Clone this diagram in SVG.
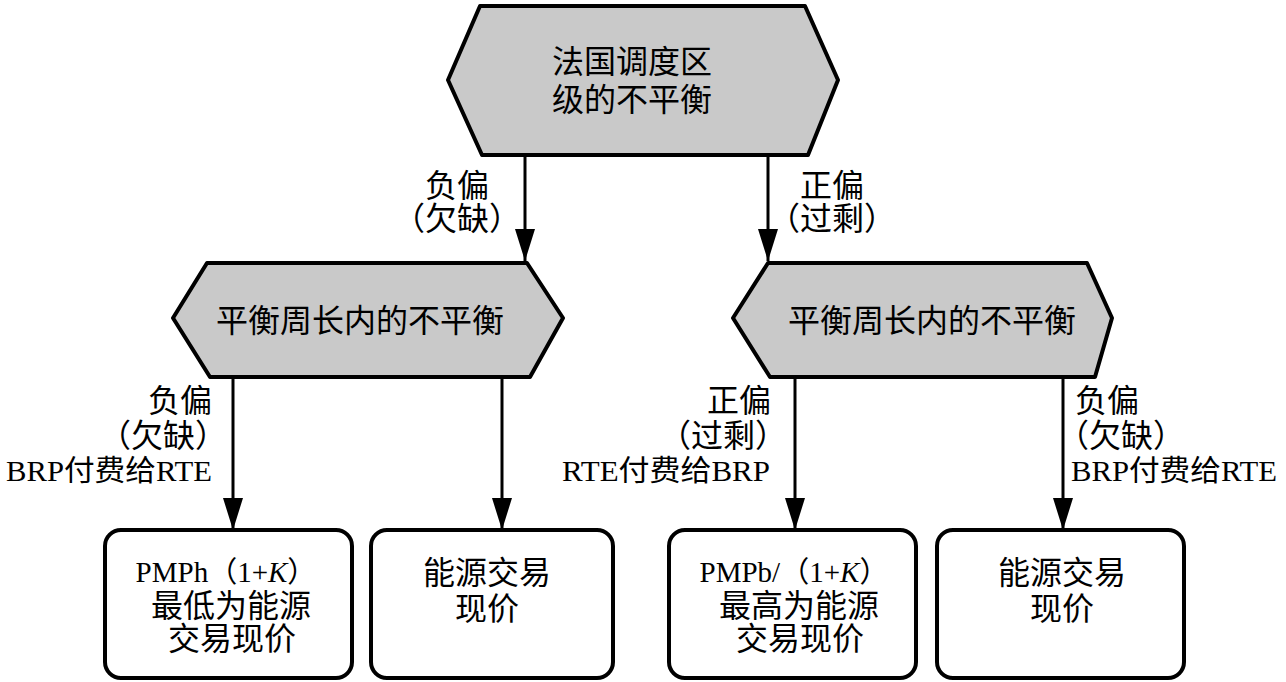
<svg xmlns="http://www.w3.org/2000/svg" width="1286" height="682" viewBox="0 0 1286 682">
<defs>
<style>
.hex{fill:#c9c9c9;stroke:#000;stroke-width:4;stroke-linejoin:round}
.box{fill:#fff;stroke:#000;stroke-width:4}
.t{font-family:"Liberation Serif","Noto Sans CJK SC",serif;font-size:32px;fill:#000;text-anchor:middle}
.f{font-size:29px}
.g{font-size:29px}
.conn{stroke:#000;stroke-width:3;fill:none}
</style>
<marker id="arr" viewBox="0 0 32 20" refX="32" refY="10" markerWidth="32" markerHeight="20" markerUnits="userSpaceOnUse" orient="auto">
<path d="M0,0 L32,10 L0,20 Z" fill="#000"/>
</marker>
</defs>
<rect width="1286" height="682" fill="#fff"/>
<g id="connectors">
<line class="conn" x1="525" y1="155" x2="525" y2="261" marker-end="url(#arr)"/>
<line class="conn" x1="768" y1="155" x2="768" y2="261" marker-end="url(#arr)"/>
<line class="conn" x1="233" y1="377" x2="233" y2="530" marker-end="url(#arr)"/>
<line class="conn" x1="502" y1="377" x2="502" y2="530" marker-end="url(#arr)"/>
<line class="conn" x1="795" y1="377" x2="795" y2="530" marker-end="url(#arr)"/>
<line class="conn" x1="1063" y1="377" x2="1063" y2="530" marker-end="url(#arr)"/>
<text class="t" x="457" y="197">负偏</text>
<text class="t" x="457" y="230">（欠缺）</text>
<text class="t" x="832" y="197">正偏</text>
<text class="t" x="832" y="230">（过剩）</text>
<text class="t" x="180" y="412">负偏</text>
<text class="t" x="163" y="447">（欠缺）</text>
<text class="t g" x="109" y="481" textLength="206" lengthAdjust="spacingAndGlyphs">BRP付费给RTE</text>
<text class="t" x="739" y="412">正偏</text>
<text class="t" x="723" y="447">（过剩）</text>
<text class="t g" x="666" y="481" textLength="208" lengthAdjust="spacingAndGlyphs">RTE付费给BRP</text>
<text class="t" x="1107" y="412">负偏</text>
<text class="t" x="1121" y="447">（欠缺）</text>
<text class="t g" x="1174" y="481" textLength="206" lengthAdjust="spacingAndGlyphs">BRP付费给RTE</text>
</g>
<g id="top">
<polygon class="hex" points="480,6 805,6 838,80 808,155 482,155 448,80"/>
<text class="t" x="632" y="73">法国调度区</text>
<text class="t" x="632" y="111">级的不平衡</text>
</g>
<g id="midLeft">
<polygon class="hex" points="207,263 527,263 563,318 530,377 210,377 173,318"/>
<text class="t" x="360" y="332">平衡周长内的不平衡</text>
</g>
<g id="midRight">
<polygon class="hex" points="768,263 1087,263 1112,318 1095,377 770,377 733,318"/>
<text class="t" x="932" y="332">平衡周长内的不平衡</text>
</g>
<g id="box1">
<rect class="box" x="105" y="530" width="247" height="148" rx="16"/>
<text class="t f" x="226" y="582">PMPh（1+<tspan font-style="italic">K</tspan>）</text>
<text class="t" x="231" y="617">最低为能源</text>
<text class="t" x="232" y="650">交易现价</text>
</g>
<g id="box2">
<rect class="box" x="371" y="530" width="242" height="148" rx="16"/>
<text class="t" x="487" y="584">能源交易</text>
<text class="t" x="487" y="620">现价</text>
</g>
<g id="box3">
<rect class="box" x="669" y="530" width="247" height="148" rx="16"/>
<text class="t f" x="794" y="582">PMPb/（1+<tspan font-style="italic">K</tspan>）</text>
<text class="t" x="799" y="617">最高为能源</text>
<text class="t" x="800" y="650">交易现价</text>
</g>
<g id="box4">
<rect class="box" x="937" y="530" width="247" height="148" rx="16"/>
<text class="t" x="1062" y="584">能源交易</text>
<text class="t" x="1062" y="620">现价</text>
</g>
</svg>
